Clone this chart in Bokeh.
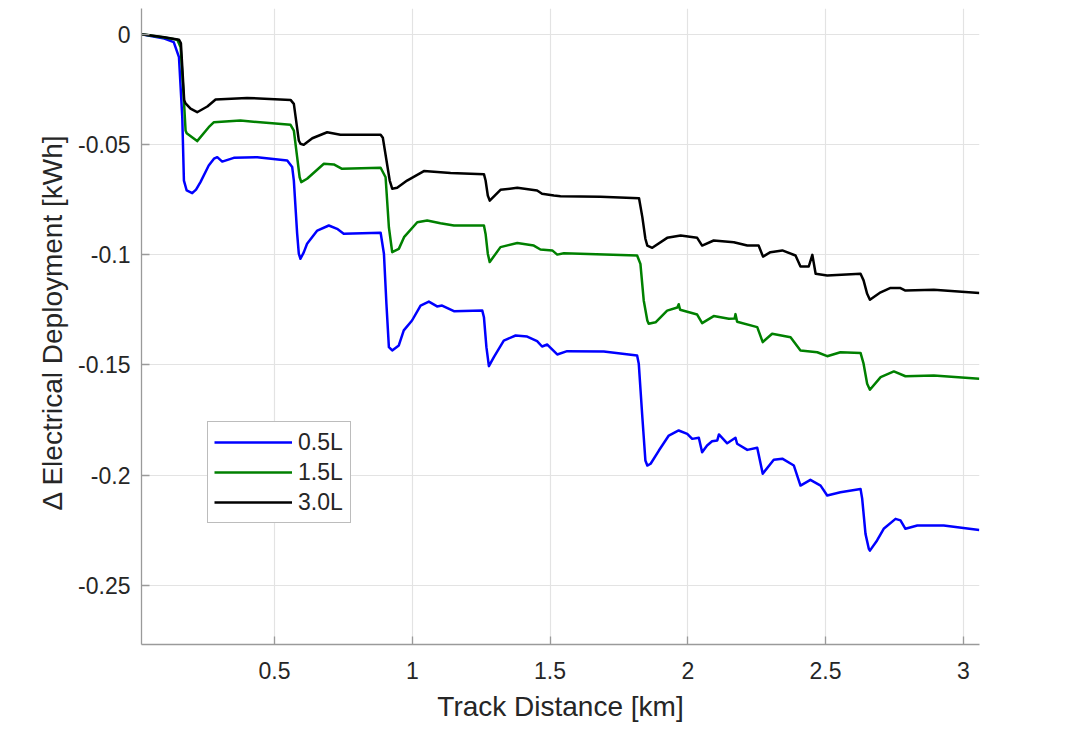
from bokeh.plotting import figure
from bokeh.models import Range1d, FixedTicker, Legend, LegendItem, Title
from bokeh.embed import file_html
from bokeh.resources import INLINE

# ---- data ----
x_05 = [0.017, 0.10, 0.134, 0.153, 0.165, 0.171, 0.181, 0.201, 0.215, 0.231, 0.261, 0.28, 0.292, 0.31,
        0.352, 0.437, 0.546, 0.564, 0.57, 0.582, 0.588, 0.594, 0.606, 0.618, 0.655, 0.697, 0.727, 0.751,
        0.885, 0.897, 0.906, 0.915, 0.927, 0.951, 0.969, 0.999, 1.03, 1.06, 1.09, 1.108, 1.151, 1.254,
        1.26, 1.269, 1.278, 1.296, 1.332, 1.375, 1.417, 1.453, 1.471, 1.49, 1.526, 1.562, 1.695, 1.816,
        1.822, 1.835, 1.846, 1.853, 1.865, 1.895, 1.931, 1.967, 1.998, 2.016, 2.04, 2.052, 2.070, 2.088,
        2.107, 2.113, 2.143, 2.173, 2.179, 2.216, 2.252, 2.272, 2.312, 2.343, 2.385, 2.409, 2.445, 2.482,
        2.506, 2.554, 2.627, 2.633, 2.645, 2.657, 2.661, 2.687, 2.711, 2.754, 2.772, 2.79, 2.833, 2.929,
        3.058]
y_05 = [0.0, -0.0020, -0.0036, -0.0104, -0.0377, -0.0664, -0.0709, -0.0721, -0.0705, -0.0671, -0.0596,
        -0.0565, -0.0558, -0.0578, -0.0561, -0.0558, -0.0573, -0.0603, -0.0664, -0.0905, -0.0996, -0.1019,
        -0.0990, -0.0951, -0.0891, -0.0868, -0.0883, -0.0905, -0.0901, -0.0996, -0.1223, -0.1420, -0.1435,
        -0.1412, -0.1344, -0.1299, -0.1231, -0.1213, -0.1235, -0.1231, -0.1257, -0.1254, -0.1284, -0.1420,
        -0.1506, -0.1465, -0.1390, -0.1367, -0.1372, -0.1393, -0.1417, -0.1408, -0.1453, -0.1438, -0.1440,
        -0.1458, -0.1495, -0.1738, -0.1934, -0.1957, -0.1949, -0.1889, -0.1821, -0.1798, -0.1813, -0.1836,
        -0.1831, -0.1897, -0.1866, -0.1847, -0.1843, -0.1816, -0.1856, -0.1831, -0.1858, -0.1886, -0.1876,
        -0.1994, -0.1931, -0.1926, -0.1957, -0.2048, -0.2022, -0.2048, -0.2093, -0.2078, -0.2063, -0.2108,
        -0.2267, -0.2335, -0.2343, -0.2297, -0.2244, -0.2199, -0.2206, -0.2244, -0.2229, -0.2229, -0.2249]

x_15 = [0.017, 0.10, 0.147, 0.159, 0.171, 0.177, 0.181, 0.219, 0.261, 0.28, 0.376, 0.558, 0.57, 0.582,
        0.591, 0.597, 0.618, 0.679, 0.715, 0.745, 0.885, 0.903, 0.915, 0.927, 0.951, 0.97, 1.018, 1.054,
        1.102, 1.151, 1.26, 1.266, 1.274, 1.281, 1.32, 1.381, 1.441, 1.465, 1.508, 1.526, 1.55, 1.816,
        1.828, 1.84, 1.853, 1.858, 1.883, 1.925, 1.962, 1.967, 1.972, 2.034, 2.052, 2.094, 2.149, 2.170,
        2.173, 2.179, 2.252, 2.272, 2.306, 2.373, 2.409, 2.47, 2.506, 2.554, 2.627, 2.638, 2.651, 2.661,
        2.70, 2.748, 2.79, 2.893, 3.058]
y_15 = [0.0, -0.0015, -0.0025, -0.0059, -0.0301, -0.0437, -0.0449, -0.0485, -0.0422, -0.0399, -0.0392,
        -0.0411, -0.0437, -0.0558, -0.0649, -0.0671, -0.0656, -0.0588, -0.0591, -0.0611, -0.0606, -0.0649,
        -0.0876, -0.0989, -0.0974, -0.0921, -0.0853, -0.0845, -0.0858, -0.0868, -0.0868, -0.0906, -0.0996,
        -0.1034, -0.0966, -0.0947, -0.0959, -0.0977, -0.0981, -0.1000, -0.0994, -0.1004, -0.1042, -0.1208,
        -0.1299, -0.1314, -0.1307, -0.1254, -0.1240, -0.1225, -0.1250, -0.1272, -0.1311, -0.1279, -0.1291,
        -0.1290, -0.1270, -0.1305, -0.1329, -0.1397, -0.1359, -0.1375, -0.1435, -0.1443, -0.1461, -0.1443,
        -0.1446, -0.1495, -0.1586, -0.1613, -0.1556, -0.1530, -0.1552, -0.1549, -0.1563]

x_30 = [0.017, 0.10, 0.153, 0.160, 0.172, 0.177, 0.195, 0.219, 0.256, 0.286, 0.40, 0.558, 0.57, 0.588,
        0.594, 0.606, 0.637, 0.691, 0.739, 0.885, 0.893, 0.918, 0.927, 0.945, 0.981, 1.042, 1.139, 1.26,
        1.266, 1.274, 1.281, 1.32, 1.381, 1.453, 1.471, 1.514, 1.538, 1.683, 1.823, 1.835, 1.846, 1.853,
        1.871, 1.925, 1.974, 2.034, 2.052, 2.094, 2.167, 2.216, 2.257, 2.273, 2.30, 2.343, 2.391, 2.409,
        2.439, 2.452, 2.464, 2.506, 2.627, 2.638, 2.651, 2.661, 2.70, 2.736, 2.772, 2.79, 2.893, 3.058]
y_30 = [0.0, -0.0014, -0.0025, -0.0040, -0.0300, -0.0314, -0.0338, -0.0354, -0.0328, -0.0296, -0.0289,
        -0.0298, -0.0316, -0.0482, -0.0497, -0.0502, -0.0472, -0.0445, -0.0456, -0.0456, -0.0470, -0.0664,
        -0.0701, -0.0697, -0.0664, -0.0621, -0.0630, -0.0635, -0.0664, -0.0732, -0.0755, -0.0706, -0.0697,
        -0.0709, -0.0724, -0.0732, -0.0735, -0.0738, -0.0744, -0.0830, -0.0928, -0.0959, -0.0969, -0.0924,
        -0.0913, -0.0924, -0.0959, -0.0936, -0.0944, -0.0959, -0.0959, -0.1009, -0.0989, -0.0981, -0.1004,
        -0.1054, -0.1054, -0.1001, -0.1087, -0.1095, -0.1087, -0.1117, -0.1178, -0.1205, -0.1171, -0.1151,
        -0.1152, -0.1163, -0.1160, -0.1174]

series_names = ["0.5L", "1.5L", "3.0L"]
series_colors = ["#0000FF", "#008000", "#000000"]

x_ticks = [0.5, 1, 1.5, 2, 2.5, 3]
x_tick_labels = ["0.5", "1", "1.5", "2", "2.5", "3"]
y_ticks = [0, -0.05, -0.1, -0.15, -0.2, -0.25]
y_tick_labels = ["0", "-0.05", "-0.1", "-0.15", "-0.2", "-0.25"]

x_lo, x_hi = 0.017, 3.0588
y_lo, y_hi = -0.2769, 0.01166

FONT = "Liberation Sans"
TXT = "#262626"
AX = "#9a9a9a"

p = figure(width=1080, height=734, output_backend="svg", toolbar_location=None,
           x_range=Range1d(x_lo, x_hi), y_range=Range1d(y_lo, y_hi),
           min_border_left=141, min_border_right=101, min_border_top=8, min_border_bottom=90)
p.outline_line_color = None
p.background_fill_color = "white"
p.border_fill_color = "white"

p.xaxis.ticker = FixedTicker(ticks=x_ticks)
p.yaxis.ticker = FixedTicker(ticks=y_ticks)
p.xaxis.major_label_overrides = {t: l for t, l in zip(x_ticks, x_tick_labels)}
p.yaxis.major_label_overrides = {t: l for t, l in zip(y_ticks, y_tick_labels)}

for ax in (p.xaxis, p.yaxis):
    ax.axis_line_color = AX
    ax.axis_line_width = 1.3
    ax.major_tick_line_color = AX
    ax.major_tick_line_width = 1.3
    ax.major_tick_in = 8
    ax.major_tick_out = 0
    ax.minor_tick_line_color = None
    ax.major_label_text_font = FONT
    ax.major_label_text_font_size = "23px"
    ax.major_label_text_color = TXT

p.xaxis.major_label_standoff = 17
p.yaxis.major_label_standoff = 11
p.xaxis.axis_label = "Track Distance [km]"
p.xaxis.axis_label_text_font = FONT
p.xaxis.axis_label_text_font_size = "28px"
p.xaxis.axis_label_text_font_style = "normal"
p.xaxis.axis_label_text_color = TXT
p.xaxis.axis_label_standoff = 9

p.xgrid.ticker = FixedTicker(ticks=x_ticks)
p.ygrid.ticker = FixedTicker(ticks=y_ticks)
p.grid.grid_line_color = "#e3e3e3"
p.grid.grid_line_width = 1.2

renderers = []
for xs, ys, c in zip([x_05, x_15, x_30], [y_05, y_15, y_30], series_colors):
    r = p.line(xs, ys, line_color=c, line_width=2.5, line_join="round")
    renderers.append(r)

# y-axis title (placed as in the reference, whose axes top is cropped)
ytitle = Title(text="\u0394 Electrical Deployment [kWh]", align="left", offset=134,
               vertical_align="top",
               text_font=FONT, text_font_size="28px", text_font_style="normal",
               text_color=TXT, standoff=11)
p.add_layout(ytitle, "left")

legend = Legend(items=[LegendItem(label=n, renderers=[r]) for n, r in zip(series_names, renderers)],
                location=(66, 121), orientation="vertical")
legend.label_text_font = FONT
legend.label_text_font_size = "23px"
legend.label_text_color = TXT
legend.glyph_width = 78
legend.glyph_height = 28
legend.label_height = 28
legend.label_width = 46
legend.label_standoff = 6
legend.spacing = 2
legend.padding = 6
legend.margin = 0
legend.border_line_color = "#7a7a7a"
legend.border_line_width = 1.2
legend.background_fill_color = "white"
legend.background_fill_alpha = 1.0
p.add_layout(legend, "center")

open("out.html", "w").write(file_html(p, INLINE))
